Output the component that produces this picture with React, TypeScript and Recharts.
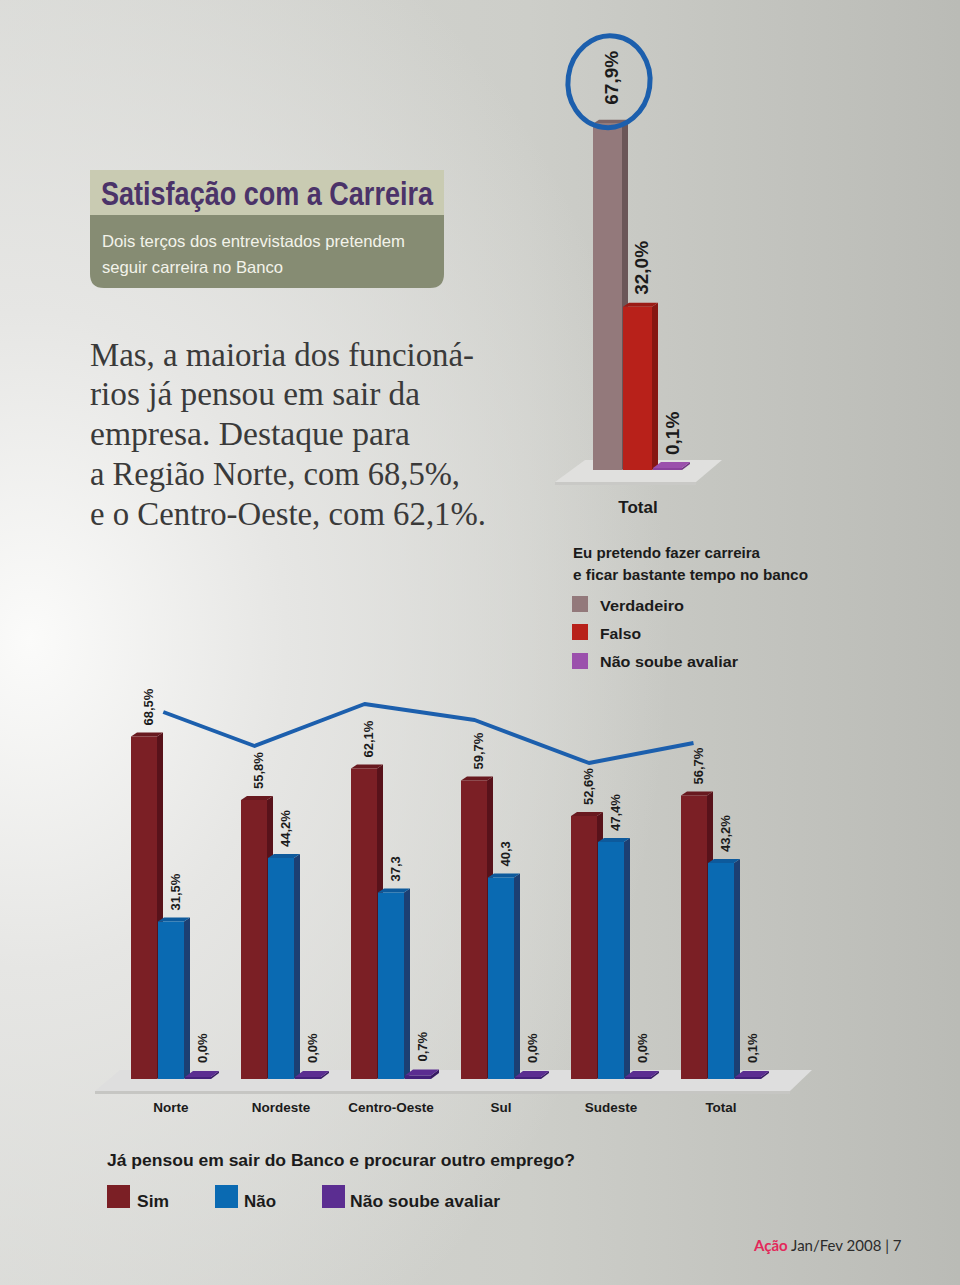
import {
  BarChart,
  ComposedChart,
  Bar,
  Scatter,
  XAxis,
  YAxis,
  LabelList,
} from 'recharts';

// Pesquisa: "Eu pretendo fazer carreira e ficar bastante tempo no banco"
const TOTAL_CATEGORIA = ['Total'];
const VERDADEIRO = [67.9];
const FALSO = [32.0];
const NAO_SOUBE_TOTAL = [0.1];

// Pesquisa: "Já pensou em sair do Banco e procurar outro emprego?"
const REGIOES = ['Norte', 'Nordeste', 'Centro-Oeste', 'Sul', 'Sudeste', 'Total'];
const SIM = [68.5, 55.8, 62.1, 59.7, 52.6, 56.7];
const NAO = [31.5, 44.2, 37.3, 40.3, 47.4, 43.2];
const NAO_SOUBE = [0.0, 0.0, 0.7, 0.0, 0.0, 0.1];
const NAO_ROTULOS = ['31,5%', '44,2%', '37,3', '40,3', '47,4%', '43,2%'];

// linha azul desenhada à mão (posição em categorias, altura em %)
const TENDENCIA_X = [-0.07, 0.76, 1.76, 2.76, 3.8, 4.75];
const TENDENCIA_Y = [73.4, 66.6, 75.0, 71.8, 63.2, 67.2];

const fmt = (v: number) => v.toFixed(1).replace('.', ',') + '%';

const totalData = TOTAL_CATEGORIA.map((c, i) => ({
  cat: c,
  verdadeiro: VERDADEIRO[i],
  falso: FALSO[i],
  naoSoube: NAO_SOUBE_TOTAL[i],
  vRot: fmt(VERDADEIRO[i]),
  fRot: fmt(FALSO[i]),
  nRot: fmt(NAO_SOUBE_TOTAL[i]),
}));

const regioesData = REGIOES.map((r, i) => ({
  regiao: r,
  sim: SIM[i],
  nao: NAO[i],
  naoSoube: NAO_SOUBE[i],
  simRot: fmt(SIM[i]),
  naoRot: NAO_ROTULOS[i],
  nsRot: fmt(NAO_SOUBE[i]),
}));

const tendencia = TENDENCIA_X.map((x, i) => ({ x, y: TENDENCIA_Y[i] }));

const SANS = "'Liberation Sans', Arial, sans-serif";
const BLUE_PEN = '#1c5fad';

const bar3d =
  (front: string, side: string, top: string, dx = 6, dy = 4) =>
  (props: any) => {
    const { x, y, width, height } = props;
    if (x == null || y == null) return <g />;
    const w = width - 1;
    const h = Math.max(height, 0);
    return (
      <g>
        <polygon
          points={`${x + w},${y} ${x + w + dx},${y - dy} ${x + w + dx},${y + h - dy} ${x + w},${y + h}`}
          fill={side}
        />
        <polygon
          points={`${x},${y} ${x + dx},${y - dy} ${x + w + dx},${y - dy} ${x + w},${y}`}
          fill={top}
        />
        <rect x={x} y={y} width={w} height={h} fill={front} />
      </g>
    );
  };

const rotLabel =
  (gap: number, size: number, circle = false) =>
  (p: any) => {
    const { x, y, width, value } = p;
    if (x == null) return null;
    const cx = x + width / 2 + 4;
    const by = y - gap;
    return (
      <g>
        {circle && (
          <ellipse
            cx={cx - 3}
            cy={by - 23}
            rx={41}
            ry={46}
            fill="none"
            stroke={BLUE_PEN}
            strokeWidth={5}
            transform={`rotate(8 ${cx - 3} ${by - 23})`}
          />
        )}
        <text
          x={cx}
          y={by}
          transform={`rotate(-90 ${cx} ${by})`}
          textAnchor="start"
          dominantBaseline="central"
          fontSize={size}
          fontWeight="bold"
          fontFamily={SANS}
          fill="#1b1b1b"
        >
          {value}
        </text>
      </g>
    );
  };

const CatTick = (dy: number, size: number) => (p: any) => {
  const { x, y, payload } = p;
  return (
    <text
      x={x}
      y={y}
      dy={dy}
      textAnchor="middle"
      fontSize={size}
      fontWeight="bold"
      fontFamily={SANS}
      fill="#1b1b1b"
    >
      {payload.value}
    </text>
  );
};

const Decor = () => (
  <svg
    width={960}
    height={1285}
    style={{ position: 'absolute', left: 0, top: 0 }}
  >
    {/* caixa do título */}
    <path
      d="M90,170 H444 V274 Q444,288 430,288 H104 Q90,288 90,274 Z"
      fill="#868c73"
    />
    <rect x={90} y={170} width={354} height={45} fill="#c9cbb2" />
    <text
      x={101}
      y={205}
      fontSize={33}
      fontWeight="bold"
      fontFamily={SANS}
      fill="#4b3369"
      textLength={332}
      lengthAdjust="spacingAndGlyphs"
    >
      Satisfação com a Carreira
    </text>
    <g fontFamily={SANS} fontSize={16.5} fill="#f3f3ea">
      <text x={102} y={247} textLength={303} lengthAdjust="spacingAndGlyphs">
        Dois terços dos entrevistados pretendem
      </text>
      <text x={102} y={273} textLength={181} lengthAdjust="spacingAndGlyphs">
        seguir carreira no Banco
      </text>
    </g>

    {/* parágrafo */}
    <g
      fontFamily="'Liberation Serif', 'DejaVu Serif', serif"
      fontSize={33}
      fill="#3a3a3a"
    >
      <text x={90} y={366} textLength={384} lengthAdjust="spacingAndGlyphs">
        Mas, a maioria dos funcioná-
      </text>
      <text x={90} y={405} textLength={330} lengthAdjust="spacingAndGlyphs">
        rios já pensou em sair da
      </text>
      <text x={90} y={445} textLength={320} lengthAdjust="spacingAndGlyphs">
        empresa. Destaque para
      </text>
      <text x={90} y={485} textLength={370} lengthAdjust="spacingAndGlyphs">
        a Região Norte, com 68,5%,
      </text>
      <text x={90} y={525} textLength={396} lengthAdjust="spacingAndGlyphs">
        e o Centro-Oeste, com 62,1%.
      </text>
    </g>

    {/* pisos 3D */}
    <polygon points="555,482 585,460 722,460 696,482" fill="#e0e0de" />
    <polygon points="555,482 696,482 696,485 555,485" fill="#c9c9c6" />
    <polygon points="95,1091 120,1070 812,1070 790,1091" fill="#dedede" />
    <polygon points="95,1091 790,1091 790,1094 95,1094" fill="#c6c6c3" />

    {/* legenda superior */}
    <g fontFamily={SANS} fontWeight="bold" fill="#1b1b1b">
      <text x={573} y={558} fontSize={15} textLength={187} lengthAdjust="spacingAndGlyphs">
        Eu pretendo fazer carreira
      </text>
      <text x={573} y={580} fontSize={15} textLength={235} lengthAdjust="spacingAndGlyphs">
        e ficar bastante tempo no banco
      </text>
      <rect x={572} y={596} width={16} height={16} fill="#93797b" />
      <rect x={572} y={624} width={16} height={16} fill="#b8211a" />
      <rect x={572} y={653} width={16} height={16} fill="#9b50ac" />
      <text x={600} y={611} fontSize={15.5} textLength={84} lengthAdjust="spacingAndGlyphs">
        Verdadeiro
      </text>
      <text x={600} y={639} fontSize={15.5} textLength={41} lengthAdjust="spacingAndGlyphs">
        Falso
      </text>
      <text x={600} y={667} fontSize={15.5} textLength={138} lengthAdjust="spacingAndGlyphs">
        Não soube avaliar
      </text>
    </g>

    {/* legenda inferior */}
    <g fontFamily={SANS} fontWeight="bold" fill="#1b1b1b" fontSize={17}>
      <text x={107} y={1166} textLength={468} lengthAdjust="spacingAndGlyphs">
        Já pensou em sair do Banco e procurar outro emprego?
      </text>
      <rect x={107} y={1185} width={23} height={23} fill="#7b1f25" />
      <rect x={215} y={1185} width={23} height={23} fill="#0a6ab2" />
      <rect x={322} y={1185} width={23} height={23} fill="#5b2d91" />
      <text x={137} y={1207} textLength={32} lengthAdjust="spacingAndGlyphs">
        Sim
      </text>
      <text x={244} y={1207} textLength={32} lengthAdjust="spacingAndGlyphs">
        Não
      </text>
      <text x={350} y={1207} textLength={150} lengthAdjust="spacingAndGlyphs">
        Não soube avaliar
      </text>
    </g>

    {/* rodapé */}
    <text x={754} y={1251} fontFamily="Lato, 'Open Sans', sans-serif" fontSize={15}>
      <tspan fill="#e3285a" fontWeight="bold">
        Ação
      </tspan>
      <tspan fill="#2b2b2b"> Jan/Fev 2008 | 7</tspan>
    </text>
  </svg>
);

export default function App() {
  return (
    <div
      style={{
        position: 'absolute',
        left: 0,
        top: 0,
        width: 960,
        height: 1285,
        overflow: 'hidden',
        background:
          'radial-gradient(ellipse 640px 820px at 30px 640px, #fbfbfa 0%, #e6e6e4 40%, rgba(214,215,211,0) 100%), linear-gradient(90deg, #d6d7d3 0%, #cdcec9 55%, #babbb6 100%)',
      }}
    >
      <Decor />

      {/* gráfico superior */}
      <div style={{ position: 'absolute', left: 538, top: 30 }}>
        <BarChart
          width={200}
          height={500}
          data={totalData}
          margin={{ top: 32, right: 0, bottom: 30, left: 0 }}
          barGap={0}
        >
          <XAxis
            dataKey="cat"
            axisLine={false}
            tickLine={false}
            height={30}
            tick={CatTick(35, 17)}
          />
          <YAxis hide domain={[0, 80]} />
          <Bar
            dataKey="verdadeiro"
            barSize={30}
            isAnimationActive={false}
            shape={bar3d('#93797b', '#6b5658', '#7c6466')}
          >
            <LabelList dataKey="vRot" content={rotLabel(19, 19, true)} />
          </Bar>
          <Bar
            dataKey="falso"
            barSize={30}
            isAnimationActive={false}
            shape={bar3d('#b8211a', '#861712', '#9b1b15')}
          >
            <LabelList dataKey="fRot" content={rotLabel(12, 19)} />
          </Bar>
          <Bar
            dataKey="naoSoube"
            barSize={30}
            minPointSize={2}
            isAnimationActive={false}
            shape={bar3d('#8a429c', '#6f3480', '#9b50ac', 8, 6)}
          >
            <LabelList dataKey="nRot" content={rotLabel(13, 19)} />
          </Bar>
        </BarChart>
      </div>

      {/* gráfico inferior */}
      <div style={{ position: 'absolute', left: 0, top: 640 }}>
        <ComposedChart
          width={960}
          height={480}
          data={regioesData}
          margin={{ top: 39, right: 184, bottom: 11, left: 116 }}
          barGap={0}
        >
          <XAxis
            dataKey="regiao"
            axisLine={false}
            tickLine={false}
            height={30}
            interval={0}
            tick={CatTick(25, 13.5)}
          />
          <YAxis hide domain={[0, 80]} />
          <XAxis
            xAxisId="trend"
            type="number"
            dataKey="x"
            domain={[-0.5, 5.5]}
            hide
          />
          <YAxis yAxisId="trend" dataKey="y" domain={[0, 80]} hide />
          <Bar
            dataKey="sim"
            barSize={27}
            isAnimationActive={false}
            shape={bar3d('#7b1f25', '#58121a', '#68191f')}
          >
            <LabelList dataKey="simRot" content={rotLabel(11, 13)} />
          </Bar>
          <Bar
            dataKey="nao"
            barSize={27}
            isAnimationActive={false}
            shape={bar3d('#0a6ab2', '#1c3f73', '#0d5a9c')}
          >
            <LabelList dataKey="naoRot" content={rotLabel(11, 13)} />
          </Bar>
          <Bar
            dataKey="naoSoube"
            barSize={27}
            minPointSize={2}
            isAnimationActive={false}
            shape={bar3d('#44207a', '#361a62', '#5b2d91', 8, 6)}
          >
            <LabelList dataKey="nsRot" content={rotLabel(14, 13)} />
          </Bar>
          <Scatter
            data={tendencia}
            xAxisId="trend"
            yAxisId="trend"
            fill={BLUE_PEN}
            line={{ strokeWidth: 4, strokeLinejoin: 'round' }}
            shape={() => <g />}
            isAnimationActive={false}
          />
        </ComposedChart>
      </div>
    </div>
  );
}
